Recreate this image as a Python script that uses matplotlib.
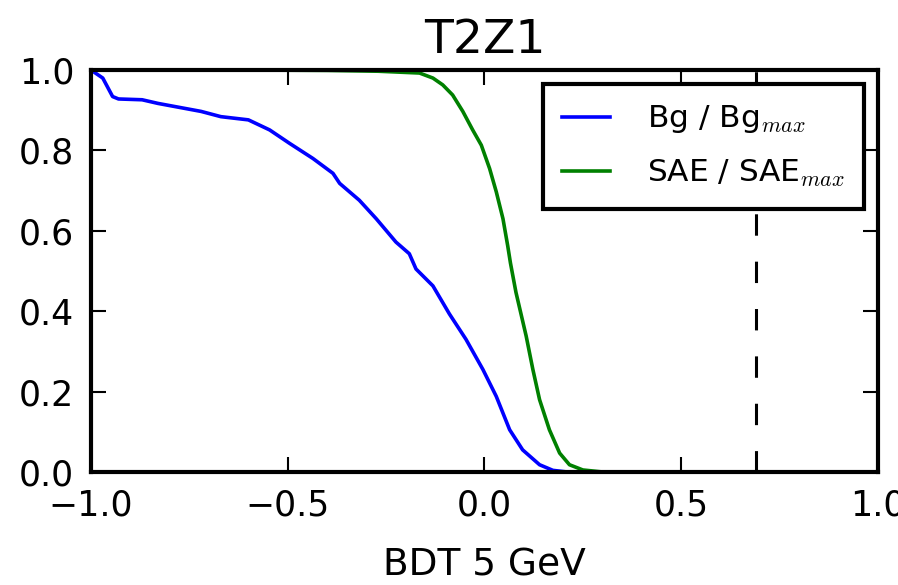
import numpy as np
import matplotlib
matplotlib.use("Agg")
import matplotlib.pyplot as plt

plt.rcParams['mathtext.fontset'] = 'cm'
plt.rcParams['font.family'] = 'DejaVu Sans'

# Curves
bg_x = [-1.0, -0.97, -0.945, -0.93, -0.87, -0.83, -0.775, -0.72, -0.67, -0.6,
        -0.546, -0.496, -0.436, -0.385, -0.368, -0.318, -0.275, -0.225, -0.191,
        -0.174, -0.131, -0.089, -0.047, -0.004, 0.03, 0.064, 0.097, 0.14,
        0.174, 0.21, 0.3, 0.5, 1.0]
bg_y = [1.0, 0.98, 0.934, 0.928, 0.926, 0.917, 0.907, 0.897, 0.884, 0.876,
        0.851, 0.818, 0.78, 0.743, 0.718, 0.676, 0.63, 0.572, 0.543,
        0.505, 0.463, 0.393, 0.33, 0.255, 0.188, 0.105, 0.055, 0.018,
        0.004, 0.0, 0.0, 0.0, 0.0]

sae_x = [-1.0, -0.6, -0.4, -0.27, -0.165, -0.131, -0.106, -0.081, -0.055, -0.03,
         -0.008, 0.013, 0.03, 0.047, 0.059, 0.066, 0.08, 0.106, 0.123, 0.14,
         0.165, 0.191, 0.216, 0.25, 0.3, 0.5, 1.0]
sae_y = [1.0, 1.0, 0.999, 0.997, 0.9925, 0.98, 0.963, 0.938, 0.897, 0.851,
         0.813, 0.755, 0.697, 0.63, 0.563, 0.52, 0.447, 0.338, 0.255, 0.18,
         0.105, 0.047, 0.018, 0.005, 0.0, 0.0, 0.0]

cut = 0.69

fig = plt.figure(figsize=(8.98, 5.85), dpi=100)
ax = fig.add_axes([0.1013, 0.1932, 0.8764, 0.6871])

ax.plot(bg_x, bg_y, color='b', lw=2.6, label='Bg / Bg$_{max}$')
ax.plot(sae_x, sae_y, color='g', lw=2.6, label='SAE / SAE$_{max}$')
ax.axvline(cut, color='k', lw=2.2, linestyle=(0, (7, 8.5)))

ax.set_xlim(-1, 1)
ax.set_ylim(0, 1)
ax.set_xticks([-1.0, -0.5, 0.0, 0.5, 1.0])
ax.set_yticks([0.0, 0.2, 0.4, 0.6, 0.8, 1.0])
ax.tick_params(direction='in', top=True, right=True, length=11, width=1.5,
               labelsize=25)
ax.tick_params(axis='x', pad=12)
ax.tick_params(axis='y', pad=12)
for s in ax.spines.values():
    s.set_linewidth(3)

ax.set_title('T2Z1', fontsize=34, pad=12)
ax.set_xlabel('BDT 5 GeV', fontsize=27, labelpad=18)

leg = ax.legend(loc='upper right', fontsize=22.5, fancybox=False, framealpha=1,
                edgecolor='k', handlelength=1.53, handletextpad=1.18,
                borderpad=0.62, labelspacing=0.72, borderaxespad=0.45)
leg.get_frame().set_linewidth(3)

fig.savefig('out.png', dpi=100)
